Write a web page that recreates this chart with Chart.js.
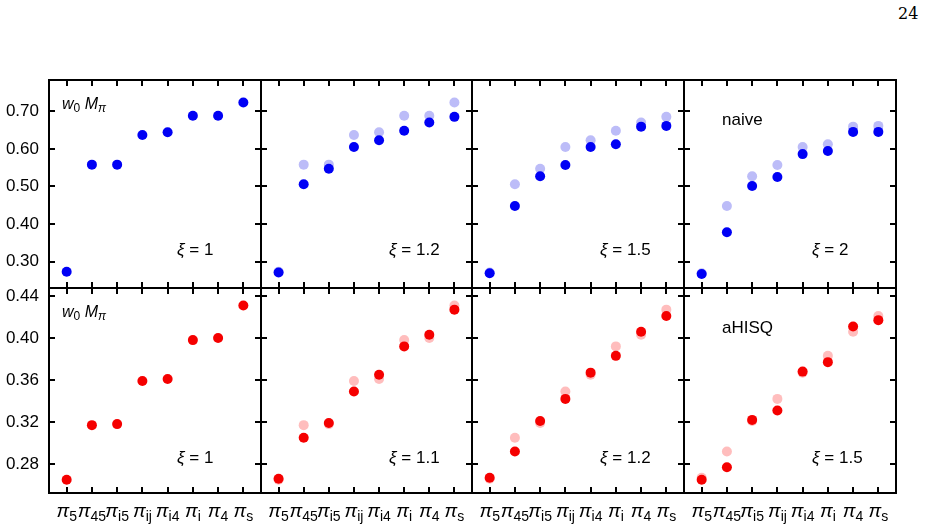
<!DOCTYPE html>
<html><head><meta charset="utf-8">
<script src="https://cdn.jsdelivr.net/npm/chart.js@4.4.1/dist/chart.umd.min.js"></script>
<style>
html,body{margin:0;padding:0;background:#fff;width:926px;height:531px;overflow:hidden;position:relative}
canvas{position:absolute}
#pg{position:absolute;left:898px;top:4px;font:16px "DejaVu Serif","Liberation Serif",serif;color:#000}
</style></head><body>
<div id="pg">24</div>
<script>
// category subscripts of π
const categories = ['5','45','i5','ij','i4','i','4','s'];
const naiveTicks = [0.30,0.40,0.50,0.60,0.70];
const ahisqTicks = [0.28,0.32,0.36,0.40,0.44];
const naiveXi = ['1','1.2','1.5','2'];
const ahisqXi = ['1','1.1','1.2','1.5'];
// naive (blue) w0*M_pi per xi
const naiveXi1  = [0.273,0.558,0.558,0.637,0.644,0.688,0.688,0.723];
const naiveXi12 = [0.271,0.506,0.547,0.605,0.623,0.648,0.670,0.685];
const naiveXi15 = [0.269,0.448,0.527,0.557,0.605,0.612,0.659,0.661];
const naiveXi2  = [0.267,0.378,0.501,0.525,0.586,0.594,0.645,0.645];
// aHISQ (red) w0*M_pi per xi
const ahisqXi1  = [0.265,0.317,0.318,0.359,0.361,0.398,0.400,0.431];
const ahisqXi11 = [0.266,0.305,0.319,0.349,0.365,0.392,0.403,0.427];
const ahisqXi12 = [0.267,0.292,0.321,0.342,0.367,0.383,0.406,0.421];
const ahisqXi15 = [0.265,0.277,0.322,0.331,0.368,0.377,0.411,0.417];

const naiveSeries = [naiveXi1, naiveXi12, naiveXi15, naiveXi2];
const ahisqSeries = [ahisqXi1, ahisqXi11, ahisqXi12, ahisqXi15];

const colX = [49, 261, 472, 684, 896];
const rowY = [80, 288, 493];
const rows = [
  {series: naiveSeries, xi: naiveXi, ticks: naiveTicks, min: 0.230, max: 0.783, dark: '#0000f5', light: '#bcbcf8', tag: 'naive', fmt: 2},
  {series: ahisqSeries, xi: ahisqXi, ticks: ahisqTicks, min: 0.2524, max: 0.4476, dark: '#f50000', light: '#ffbdbd', tag: 'aHISQ', fmt: 2}
];

const FONT = '"Liberation Sans", Arial, Helvetica, sans-serif';

function drawRich(ctx, x, y, parts, align) {
  let w = 0;
  const ws = parts.map(p => { ctx.font = p[1]; const m = ctx.measureText(p[0]).width; w += m; return m; });
  let cx = align === 'center' ? x - w / 2 : x;
  parts.forEach((p, i) => { ctx.font = p[1]; ctx.fillText(p[0], cx, y + (p[2] || 0)); cx += ws[i]; });
}

const panelText = {
  id: 'panelText',
  afterDraw(chart, args, o) {
    const ctx = chart.ctx, a = chart.chartArea;
    ctx.save();
    ctx.fillStyle = '#000';
    ctx.textBaseline = 'alphabetic';
    drawRich(ctx, a.left + 128, a.top + o.xiY, [
      ['\u03BE', 'italic 17px ' + FONT],
      [' = ' + o.xi, '17px ' + FONT]
    ]);
    if (o.first) {
      drawRich(ctx, a.left + 13, a.top + 29, [
        ['w', 'italic 16px ' + FONT],
        ['0', '12px ' + FONT, 3],
        [' M', 'italic 16px ' + FONT],
        ['\u03C0', 'italic 12px ' + FONT, 3]
      ]);
    }
    if (o.tag) {
      ctx.font = '17px ' + FONT;
      ctx.fillText(o.tag, a.left + 38, a.top + 45);
    }
    if (o.xLabels) {
      const xs = chart.scales.x;
      xs.ticks.forEach((t, i) => {
        const px = xs.getPixelForTick(i);
        drawRich(ctx, px, a.bottom + 24, [
          ['\u03C0', 'italic 19px ' + FONT],
          [categories[t.value], '14px ' + FONT, 4]
        ], 'center');
      });
    }
    ctx.restore();
  }
};

function fixSize(prop, v) {
  return function (s) {
    s[prop] = v;
    s.paddingTop = 0; s.paddingBottom = 0; s.paddingLeft = 0; s.paddingRight = 0;
  };
}

function catTicks(s) { s.ticks = categories.map((c, i) => ({value: i})); }

rows.forEach((R, r) => {
  for (let c = 0; c < 4; c++) {
    const leftW = c === 0 ? 49 : 6, rightW = 6, topH = 6, botH = r === 1 ? 38 : 6;
    const pw = colX[c + 1] - colX[c], ph = rowY[r + 1] - rowY[r];
    const cv = document.createElement('canvas');
    const W = leftW + pw + rightW, H = topH + ph + botH;
    cv.width = W; cv.height = H;
    cv.style.left = (colX[c] - leftW) + 'px';
    cv.style.top = (rowY[r] - topH) + 'px';
    cv.style.width = W + 'px'; cv.style.height = H + 'px';
    document.body.appendChild(cv);

    const datasets = [{
      data: R.series[c].map((v, i) => ({x: i, y: v})),
      backgroundColor: R.dark, borderWidth: 0, pointRadius: 5
    }];
    if (c > 0) datasets.push({
      data: R.series[c - 1].map((v, i) => ({x: i, y: v})),
      backgroundColor: R.light, borderWidth: 0, pointRadius: 5
    });

    const tickGrid = {display: true, drawOnChartArea: false, drawTicks: true, tickLength: -6, lineWidth: 2, color: '#000'};
    const border = {display: true, width: 2, color: '#000'};
    const yTicks = s => { s.ticks = R.ticks.map(v => ({value: v})); };

    new Chart(cv, {
      type: 'scatter',
      data: {datasets},
      options: {
        responsive: false, animation: false, devicePixelRatio: 1,
        layout: {padding: 0},
        plugins: {legend: {display: false}, tooltip: {enabled: false},
          panelText: {xi: R.xi[c], first: c === 0, tag: c === 3 ? R.tag : null, xLabels: r === 1, xiY: r === 0 ? 175 : 174.5}},
        scales: {
          x: {type: 'linear', position: 'bottom', min: -0.7, max: 7.7, afterBuildTicks: catTicks,
              ticks: {display: false}, grid: tickGrid, border, afterFit: fixSize('height', botH)},
          x2: {type: 'linear', position: 'top', min: -0.7, max: 7.7, afterBuildTicks: catTicks,
              ticks: {display: false}, grid: tickGrid, border, afterFit: fixSize('height', topH)},
          y: {type: 'linear', position: 'left', min: R.min, max: R.max, afterBuildTicks: yTicks,
              ticks: {display: c === 0, padding: 16, color: '#000', font: {family: FONT, size: 17},
                      callback: v => Number(v).toFixed(R.fmt)},
              grid: tickGrid, border, afterFit: fixSize('width', leftW)},
          y2: {type: 'linear', position: 'right', min: R.min, max: R.max, afterBuildTicks: yTicks,
              ticks: {display: false}, grid: tickGrid, border, afterFit: fixSize('width', rightW)}
        }
      },
      plugins: [panelText]
    });
  }
});
</script>
</body></html>
